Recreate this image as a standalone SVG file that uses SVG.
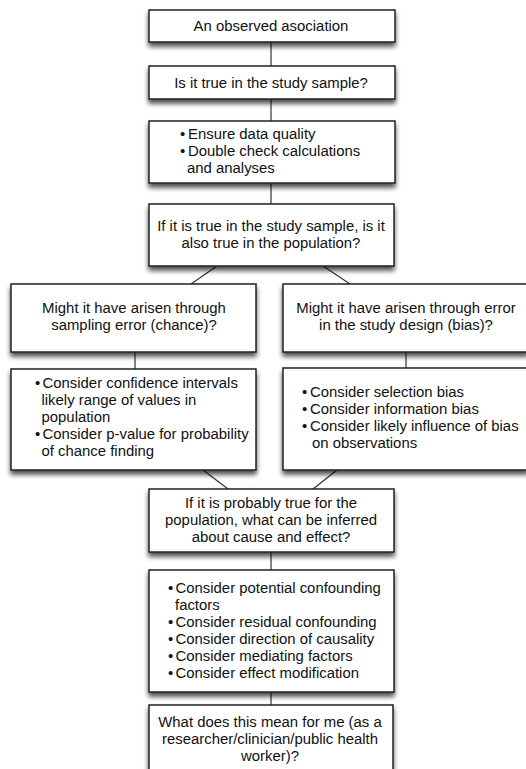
<svg xmlns="http://www.w3.org/2000/svg" width="526" height="769" viewBox="0 0 526 769">
<defs>
<filter id="sh" x="-10%" y="-20%" width="120%" height="160%">
<feGaussianBlur in="SourceAlpha" stdDeviation="2.5"/>
<feOffset dx="0" dy="4" result="b"/>
<feComponentTransfer><feFuncA type="linear" slope="0.7"/></feComponentTransfer>
<feMerge><feMergeNode/><feMergeNode in="SourceGraphic"/></feMerge>
</filter>
</defs>
<style>
.box{fill:#fff;stroke:#222;stroke-width:1.5;filter:url(#sh)}
.t{font-family:"Liberation Sans",Arial,Helvetica,sans-serif;font-size:14.9px;fill:#111}
.c{text-anchor:middle}
.ln{stroke:#333;stroke-width:1.2;fill:none}
</style>
<rect width="526" height="769" fill="#fff"/>
<g id="connectors">
<line class="ln" x1="271" y1="42" x2="271" y2="66"/>
<line class="ln" x1="271" y1="99" x2="271" y2="121"/>
<line class="ln" x1="271" y1="183" x2="271" y2="204"/>
<line class="ln" x1="217" y1="266" x2="191" y2="284"/>
<line class="ln" x1="323" y1="266" x2="350" y2="284"/>
<line class="ln" x1="135" y1="352" x2="135" y2="369"/>
<line class="ln" x1="406" y1="352" x2="406" y2="368"/>
<line class="ln" x1="203" y1="470" x2="228" y2="489"/>
<line class="ln" x1="337" y1="470" x2="313" y2="489"/>
<line class="ln" x1="271" y1="552" x2="271" y2="570"/>
<line class="ln" x1="271" y1="692" x2="271" y2="705"/>
</g>
<g id="n1"><rect class="box" x="149" y="10" width="246" height="32"/>
<text class="t c" x="271" y="31">An observed asociation</text></g>
<g id="n2"><rect class="box" x="149" y="66" width="246" height="33"/>
<text class="t c" x="271" y="87.5">Is it true in the study sample?</text></g>
<g id="n3"><rect class="box" x="149" y="121" width="246" height="62"/>
<text class="t" x="180" y="139">•</text><text class="t" x="188" y="139">Ensure data quality</text>
<text class="t" x="180" y="156">•</text><text class="t" x="188" y="156">Double check calculations</text>
<text class="t" x="187" y="173">and analyses</text></g>
<g id="n4"><rect class="box" x="149" y="204" width="245" height="62"/>
<text class="t c" x="271" y="231">If it is true in the study sample, is it</text>
<text class="t c" x="271" y="248">also true in the population?</text></g>
<g id="n5"><rect class="box" x="11" y="284" width="245" height="68"/>
<text class="t c" x="134" y="313">Might it have arisen through</text>
<text class="t c" x="134" y="330">sampling error (chance)?</text></g>
<g id="n6"><rect class="box" x="283" y="284" width="245" height="68"/>
<text class="t c" x="406" y="313">Might it have arisen through error</text>
<text class="t c" x="406" y="330">in the study design (bias)?</text></g>
<g id="n7"><rect class="box" x="11" y="369" width="245" height="101"/>
<text class="t" x="35" y="388">•</text><text class="t" x="42.5" y="388">Consider confidence intervals</text>
<text class="t" x="41.5" y="405">likely range of values in</text>
<text class="t" x="41.5" y="422">population</text>
<text class="t" x="35" y="439">•</text><text class="t" x="42.5" y="439">Consider p-value for probability</text>
<text class="t" x="41.5" y="456">of chance finding</text></g>
<g id="n8"><rect class="box" x="283" y="368" width="245" height="102"/>
<text class="t" x="302" y="396.5">•</text><text class="t" x="310" y="396.5">Consider selection bias</text>
<text class="t" x="302" y="413.5">•</text><text class="t" x="310" y="413.5">Consider information bias</text>
<text class="t" x="302" y="430.5">•</text><text class="t" x="310" y="430.5">Consider likely influence of bias</text>
<text class="t" x="312" y="447.5">on observations</text></g>
<g id="n9"><rect class="box" x="149" y="489" width="245" height="63"/>
<text class="t c" x="271" y="507.5">If it is probably true for the</text>
<text class="t c" x="271" y="524.5">population, what can be inferred</text>
<text class="t c" x="271" y="541.5">about cause and effect?</text></g>
<g id="n10"><rect class="box" x="149" y="570" width="245" height="122"/>
<text class="t" x="168" y="593">•</text><text class="t" x="175.5" y="593">Consider potential confounding</text>
<text class="t" x="175" y="610">factors</text>
<text class="t" x="168" y="627">•</text><text class="t" x="175.5" y="627">Consider residual confounding</text>
<text class="t" x="168" y="644">•</text><text class="t" x="175.5" y="644">Consider direction of causality</text>
<text class="t" x="168" y="661">•</text><text class="t" x="175.5" y="661">Consider mediating factors</text>
<text class="t" x="168" y="678">•</text><text class="t" x="175.5" y="678">Consider effect modification</text></g>
<g id="n11"><rect class="box" x="149" y="705" width="244" height="75"/>
<text class="t c" x="270" y="726.5">What does this mean for me (as a</text>
<text class="t c" x="270" y="743.5">researcher/clinician/public health</text>
<text class="t c" x="270" y="760.5">worker)?</text></g>
</svg>
